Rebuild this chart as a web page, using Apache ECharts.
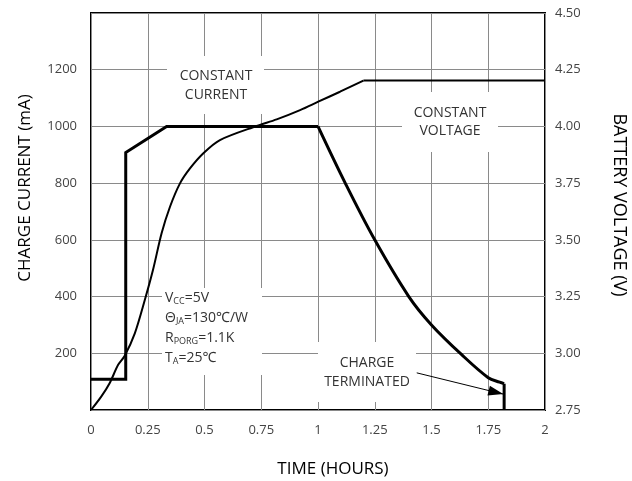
<!DOCTYPE html>
<html><head><meta charset="utf-8">
<script src="https://cdn.jsdelivr.net/npm/echarts@6/dist/echarts.min.js"></script>
<style>html,body{margin:0;padding:0;background:#fff}#c{width:632px;height:481px}</style>
</head><body><div id="c"></div>
<script>
// Time axis (hours)
const xTicks = [0, 0.25, 0.5, 0.75, 1, 1.25, 1.5, 1.75, 2];
const currentTicks = [200, 400, 600, 800, 1000, 1200];
const voltageTicks = [2.75, 3.00, 3.25, 3.50, 3.75, 4.00, 4.25, 4.50];

// Charge current (mA) vs time (h): pre-charge / constant-current steps
const ccTime  = [0, 0.153, 0.153, 0.333, 1.0];
const ccValue = [108, 108, 908, 1000, 1000];
// Constant-voltage decay of the current
const cvTime  = [1.0, 1.12, 1.25, 1.40, 1.5, 1.633, 1.75, 1.80, 1.82];
const cvValue = [1000, 800, 600, 400, 300, 195, 114, 98, 93];
// Termination drop
const termTime  = [1.82, 1.82];
const termValue = [93, 0];

// Battery voltage (V) vs time (h)
const voltageTime  = [0, 0.045, 0.082, 0.119, 0.148, 0.193, 0.237, 0.273, 0.311, 0.348, 0.392, 0.436, 0.495, 0.568, 0.73, 0.818, 0.921, 1.001, 1.097, 1.2];
const voltageValue = [2.75, 2.809, 2.868, 2.948, 2.988, 3.088, 3.235, 3.367, 3.529, 3.646, 3.749, 3.815, 3.882, 3.94, 4.002, 4.031, 4.072, 4.109, 4.153, 4.202];
const floatTime  = [1.2, 2.0];
const floatValue = [4.202, 4.202];

// Charge-terminated arrow (time h, current mA)
const arrowFrom = [1.435, 131];
const arrowTo = [1.816, 56];

const FONT = '"Open Sans", "Noto Sans", sans-serif';
const chart = echarts.init(document.getElementById('c'));

const pairs = (xs, ys) => xs.map((t, i) => [t, ys[i]]);

function box(x, y, w, h) {
  return {type: 'rect', z: 1, shape: {x: x, y: y, width: w, height: h}, style: {fill: '#fff'}};
}
function txt(x, y, text, opts) {
  return Object.assign({type: 'text', z: 3, x: x, y: y,
    style: {text: text, fill: '#333', font: '14px ' + FONT, align: 'center', verticalAlign: 'middle'}}, opts || {});
}
const lineBase = {type: 'line', showSymbol: false, z: 4, silent: true};

chart.setOption({
  animation: false,
  backgroundColor: '#fff',
  grid: {left: 91, right: 87, top: 13, bottom: 71, show: true, borderColor: '#000', borderWidth: 2, backgroundColor: 'transparent'},
  xAxis: {
    type: 'value', min: 0, max: 2, interval: 0.25,
    axisLine: {show: false}, axisTick: {show: false},
    splitLine: {show: true, lineStyle: {color: '#8a8a8a', width: 1}},
    axisLabel: {color: '#444', fontSize: 13, fontFamily: FONT, margin: 14,
      formatter: v => xTicks.includes(v) ? String(v) : ''}
  },
  yAxis: [{
    type: 'value', min: 0, max: 1400, interval: 200,
    axisLine: {show: false}, axisTick: {show: false},
    splitLine: {show: true, lineStyle: {color: '#8a8a8a', width: 1}},
    axisLabel: {color: '#444', fontSize: 13, fontFamily: FONT, margin: 14,
      formatter: v => currentTicks.includes(v) ? String(v) : ''}
  }, {
    type: 'value', min: 2.75, max: 4.5, interval: 0.25, position: 'right',
    axisLine: {show: false}, axisTick: {show: false}, splitLine: {show: false},
    axisLabel: {color: '#444', fontSize: 13, fontFamily: FONT, margin: 10,
      formatter: v => voltageTicks.some(t => Math.abs(t - v) < 1e-6) ? v.toFixed(2) : ''}
  }],
  series: [
    Object.assign({}, lineBase, {name: 'Current CC', yAxisIndex: 0,
      data: pairs(ccTime, ccValue), lineStyle: {color: '#000', width: 3, join: 'miter'}}),
    Object.assign({}, lineBase, {name: 'Current CV', yAxisIndex: 0,
      data: pairs(cvTime, cvValue), smooth: 0.35, lineStyle: {color: '#000', width: 3}}),
    Object.assign({}, lineBase, {name: 'Terminated', yAxisIndex: 0,
      data: pairs(termTime, termValue), lineStyle: {color: '#000', width: 3}}),
    Object.assign({}, lineBase, {name: 'Voltage rise', yAxisIndex: 1,
      data: pairs(voltageTime, voltageValue), smooth: 0.3, lineStyle: {color: '#000', width: 2}}),
    Object.assign({}, lineBase, {name: 'Voltage float', yAxisIndex: 1,
      data: pairs(floatTime, floatValue), lineStyle: {color: '#000', width: 2}}),
    Object.assign({}, lineBase, {name: 'Arrow', yAxisIndex: 0,
      data: pairs([arrowFrom[0], arrowTo[0]], [arrowFrom[1], arrowTo[1]]),
      symbol: 'none', lineStyle: {color: '#000', width: 1}})
  ],
  graphic: [
    box(167, 56, 97, 58),
    txt(216, 76, 'CONSTANT'), txt(216, 95, 'CURRENT'),
    box(402, 92, 96, 60),
    txt(450, 113, 'CONSTANT'), txt(450, 131, 'VOLTAGE'),
    box(162, 288, 100, 87),
    {type: 'text', z: 3, x: 165, y: 288, style: {
      text: '{n|V}{s|CC}{n|=5V}\n{n|Θ}{s|JA}{n|=130℃/W}\n{n|R}{s|PORG}{n|=1.1K}\n{n|T}{s|A}{n|=25℃}',
      fill: '#333', font: '14px ' + FONT, lineHeight: 20,
      rich: {
        n: {fontSize: 14, fontFamily: FONT, fill: '#333', lineHeight: 20},
        s: {fontSize: 9, fontFamily: FONT, fill: '#333', lineHeight: 20, padding: [7, 0, 0, 0]}
      }}},
    box(318, 342, 98, 60),
    txt(367, 363, 'CHARGE'), txt(367, 382, 'TERMINATED'),
    txt(25, 188, '', {rotation: Math.PI / 2, style: {text: 'CHARGE CURRENT (mA)', fill: '#000', font: '17px ' + FONT, align: 'center', verticalAlign: 'middle'}}),
    txt(619, 205, '', {rotation: -Math.PI / 2, style: {text: 'BATTERY VOLTAGE (V)', fill: '#000', font: '18px ' + FONT, align: 'center', verticalAlign: 'middle'}}),
    txt(333, 469, '', {style: {text: 'TIME (HOURS)', fill: '#000', font: '17px ' + FONT, align: 'center', verticalAlign: 'middle'}})
  ]
});

// Arrowhead at the data-anchored arrow tip
const p0 = chart.convertToPixel({xAxisIndex: 0, yAxisIndex: 0}, arrowFrom);
const p1 = chart.convertToPixel({xAxisIndex: 0, yAxisIndex: 0}, arrowTo);
const ang = Math.atan2(p1[1] - p0[1], p1[0] - p0[0]);
const L = 15, W = 5;
const bx = p1[0] - L * Math.cos(ang), by = p1[1] - L * Math.sin(ang);
const nx = -Math.sin(ang) * W, ny = Math.cos(ang) * W;
chart.setOption({graphic: [{type: 'polygon', id: 'arrowhead', z: 5,
  shape: {points: [[p1[0], p1[1]], [bx + nx, by + ny], [bx - nx, by - ny]]},
  style: {fill: '#000'}}]});
</script></body></html>
